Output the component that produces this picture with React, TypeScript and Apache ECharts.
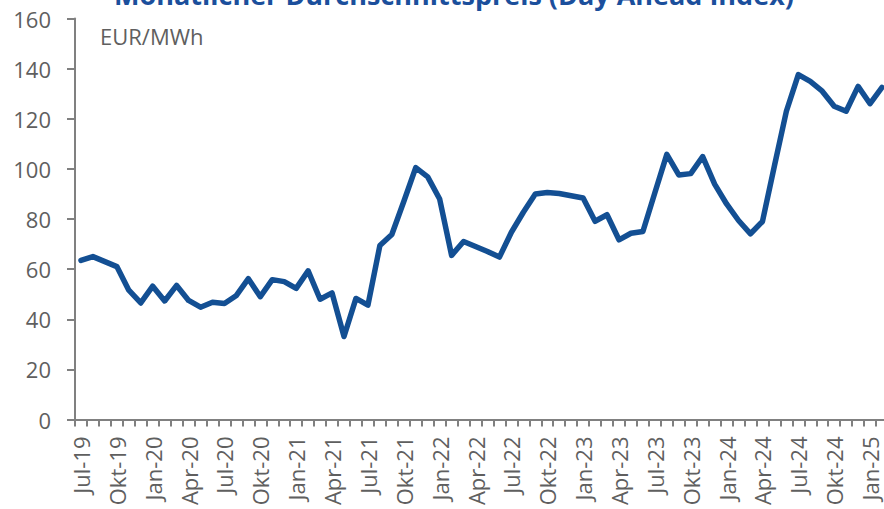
import React, { useEffect, useRef } from "react";
import * as echarts from "echarts";

// Months from Jul-19 to Feb-25
const monthNames = ["Jan", "Feb", "Mär", "Apr", "Mai", "Jun", "Jul", "Aug", "Sep", "Okt", "Nov", "Dez"];
const startYear = 2019;
const startMonth = 6; // July (0-based)
const monthCount = 68;

const months: string[] = [];
for (let i = 0; i < monthCount; i++) {
  const m = (startMonth + i) % 12;
  const y = startYear + Math.floor((startMonth + i) / 12);
  months.push(`${monthNames[m]}-${String(y % 100).padStart(2, "0")}`);
}

// Monthly average price, EUR/MWh
const prices: number[] = [
  63.5, 65, 63, 61, 51.6, 46.5,
  53.2, 47.3, 53.5, 47.5, 44.8, 46.8, 46.3, 49.5, 56.2, 49, 55.8, 55,
  52.3, 59.3, 48, 50.5, 33.1, 48.3, 45.6, 69.4, 73.8, 87, 100.5, 96.8,
  88, 65.5, 71, 69, 67, 64.8, 74.7, 82.7, 90, 90.6, 90.2, 89.3,
  88.4, 79.1, 81.7, 71.7, 74.3, 75, 90.5, 105.8, 97.6, 98.1, 104.9, 93.9,
  86, 79.4, 74.1, 79, 101.2, 123, 137.6, 134.9, 131, 125, 123, 132.9,
  126, 132.5,
];

const titleText = "Monatlicher Durchschnittspreis (Day Ahead Index)";
const unitText = "EUR/MWh";

const yMin = 0;
const yMax = 160;
const yStep = 20;

export default function App() {
  const ref = useRef<HTMLDivElement>(null);

  useEffect(() => {
    if (!ref.current) return;
    const chart = echarts.init(ref.current, null, { renderer: "svg" });
    const axisGray = "#808080";
    const labelGray = "#5f5f5f";
    const font = "'Open Sans', 'DejaVu Sans', sans-serif";

    chart.setOption({
      animation: false,
      backgroundColor: "#ffffff",
      textStyle: { fontFamily: font },
      grid: {
        left: 75,
        right: -4,
        top: 18.5,
        bottom: 89.5,
        containLabel: false,
        outerBoundsMode: "none",
      },
      xAxis: {
        type: "category",
        data: months,
        boundaryGap: true,
        axisLine: { lineStyle: { color: axisGray, width: 2 } },
        axisTick: {
          show: true,
          interval: 0,
          length: 7,
          lineStyle: { color: axisGray, width: 2 },
        },
        axisLabel: {
          interval: 2,
          rotate: 90,
          margin: 17,
          color: labelGray,
          fontSize: 22,
          fontFamily: font,
        },
        splitLine: { show: false },
      },
      yAxis: {
        type: "value",
        min: yMin,
        max: yMax,
        interval: yStep,
        axisLine: { show: true, lineStyle: { color: axisGray, width: 2 } },
        axisTick: { show: true, length: 8, lineStyle: { color: axisGray, width: 2 } },
        axisLabel: {
          margin: 24,
          color: labelGray,
          fontSize: 22,
          fontFamily: font,
        },
        splitLine: { show: false },
      },
      series: [
        {
          type: "line",
          data: prices,
          symbol: "none",
          smooth: false,
          lineStyle: { color: "#134f93", width: 5.5, join: "round", cap: "round" },
          clip: false,
        },
      ],
      graphic: [
        {
          type: "text",
          x: 454,
          y: 8,
          style: {
            text: titleText,
            fill: "#1b4f9c",
            fontSize: 27,
            fontWeight: "bold",
            fontFamily: font,
            align: "center",
            verticalAlign: "bottom",
          },
          silent: true,
        },
        {
          type: "text",
          x: 100,
          y: 25,
          style: {
            text: unitText,
            fill: labelGray,
            fontSize: 22,
            fontFamily: font,
          },
          silent: true,
        },
      ],
    });

    return () => chart.dispose();
  }, []);

  return (
    <div
      ref={ref}
      style={{ position: "fixed", left: 0, top: 0, width: 884, height: 509 }}
    />
  );
}
